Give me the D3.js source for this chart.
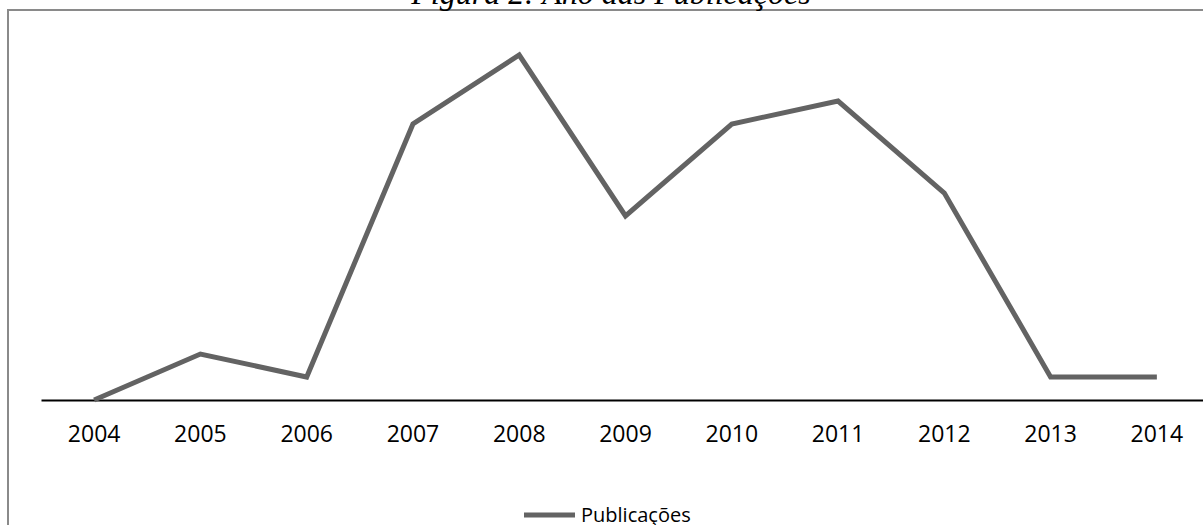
<!DOCTYPE html>
<html lang="pt">
<head>
	<meta charset="utf-8">
	<title>Figura 2: Ano das Publicações</title>
	<script src="https://d3js.org/d3.v7.min.js"></script>
	<style type="text/css">
		body { margin: 0; background: #fff; }
		svg { display: block; }
		.x.Axis path { stroke: #000; stroke-width: 2; }
		.x.Axis line { display: none; }
		.x.Axis text { font-family: "Open Sans", sans-serif; font-size: 23px; fill: #000; }
	</style>
</head>
<body>
	<svg id="chart"></svg>
	<script type="text/javascript">
		// data
		var years = ["2004", "2005", "2006", "2007", "2008", "2009", "2010", "2011", "2012", "2013", "2014"]
		var publicacoes = [0, 2, 1, 12, 15, 8, 12, 13, 9, 1, 1]
		var seriesName = "Publicações"
		var title = "Figura 2: Ano das Publicações"

		var lineGray = "#636363"

		var wholeW = 1203
		var wholeH = 525

		var svg = d3.select("#chart")
			.attr("width", wholeW)
			.attr("height", wholeH)

		// outer frame (cut by the window on the right and bottom)
		svg.append("rect")
			.attr("x", 8).attr("y", 10)
			.attr("width", 1300).attr("height", 600)
			.attr("fill", "none")
			.attr("stroke", "#8a8a8a")
			.attr("stroke-width", 2)

		// title, partly cut at the top like the source
		svg.append("text")
			.attr("x", 611)
			.attr("y", 4)
			.attr("text-anchor", "middle")
			.style("font-family", "'Liberation Serif', serif")
			.style("font-style", "italic")
			.style("font-size", "32px")
			.text(title)

		// scales
		var xScale = d3.scaleBand().domain(years).range([41, 1210])
		var yScale = d3.scaleLinear().domain([0, 16]).range([400, 32])

		var xAxis = d3.axisBottom(xScale).tickSizeOuter(0).tickSize(0).tickPadding(26)

		svg.append("g")
			.attr("class", "x Axis")
			.attr("transform", "translate(0,400)")
			.call(xAxis)

		var data = years.map((y, i) => ({year: y, value: publicacoes[i]}))

		var line = d3.line()
			.x(d => xScale(d.year) + xScale.bandwidth() / 2)
			.y(d => yScale(d.value))

		svg.append("path")
			.datum(data)
			.attr("d", line)
			.attr("fill", "none")
			.attr("stroke", lineGray)
			.attr("stroke-width", 5)
			.attr("stroke-linejoin", "miter")

		// legend
		var legend = svg.append("g").attr("transform", "translate(524,515)")
		legend.append("line")
			.attr("x1", 0).attr("x2", 51)
			.attr("y1", 0).attr("y2", 0)
			.attr("stroke", lineGray)
			.attr("stroke-width", 5)
		legend.append("text")
			.attr("x", 57)
			.attr("y", 7)
			.style("font-family", "'Open Sans', sans-serif")
			.style("font-size", "20px")
			.text(seriesName)
	</script>
</body>
</html>
